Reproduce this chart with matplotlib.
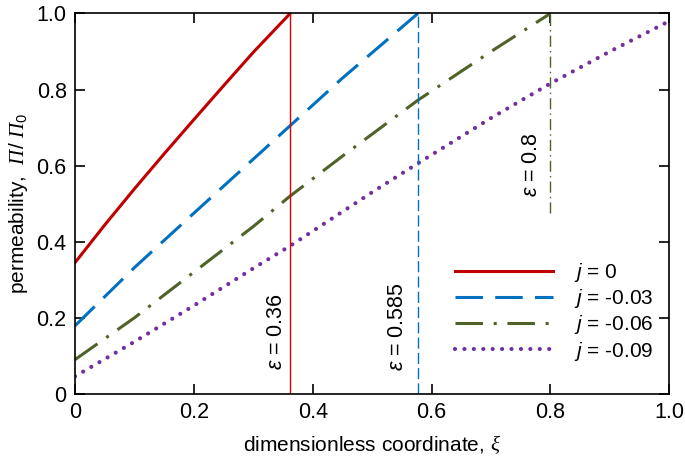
import matplotlib
matplotlib.use("Agg")
import matplotlib.pyplot as plt

plt.rcParams['font.family'] = ['Liberation Sans', 'DejaVu Sans']
plt.rcParams['mathtext.fontset'] = 'custom'
plt.rcParams['mathtext.rm'] = 'Liberation Sans'
plt.rcParams['mathtext.it'] = 'Liberation Sans:italic'
plt.rcParams['mathtext.cal'] = 'Liberation Serif:italic'

# data
xi_red = [0, 0.05, 0.1, 0.15, 0.2, 0.25, 0.3, 0.362]
pi_red = [0.345, 0.444, 0.539, 0.631, 0.721, 0.81, 0.898, 1.0]
xi_blue = [0, 0.1, 0.2, 0.3, 0.362, 0.45, 0.577]
pi_blue = [0.179, 0.332, 0.475, 0.617, 0.705, 0.83, 1.0]
xi_green = [0, 0.1, 0.2, 0.3, 0.362, 0.45, 0.577, 0.7, 0.8]
pi_green = [0.09, 0.2, 0.32, 0.44, 0.52, 0.625, 0.772, 0.9, 1.0]
xi_purple = [0, 0.1, 0.2, 0.3, 0.362, 0.5, 0.577, 0.7, 0.8, 0.9, 1.0]
pi_purple = [0.046, 0.137, 0.232, 0.33, 0.389, 0.53, 0.606, 0.725, 0.816, 0.90, 0.98]
labels = [r'$j$ = 0', r'$j$ = -0.03', r'$j$ = -0.06', r'$j$ = -0.09']
eps_vals = [0.362, 0.577, 0.8]
eps_labels = ['0.36', '0.585', '0.8']
eps_bottoms = [0.0, 0.0, 0.475]

c_red, c_blue, c_green, c_purple = '#C00000', '#0070C0', '#4F6228', '#7030A0'

fig = plt.figure(figsize=(6.85, 4.65), dpi=100)
ax = fig.add_axes([0.1095, 0.153, 0.8675, 0.818])

lw = 2.2
ax.plot(xi_red, pi_red, color=c_red, lw=lw, label=labels[0])
ax.plot(xi_blue, pi_blue, color=c_blue, lw=lw, linestyle=(0, (9, 4)), label=labels[1])
ax.plot(xi_green, pi_green, color=c_green, lw=lw, linestyle=(0, (9, 3.5, 1, 3.5)), label=labels[2])
ax.plot(xi_purple, pi_purple, color=c_purple, lw=3.0, linestyle=(0, (0.01, 2.25)),
        dash_capstyle='round', label=labels[3])

# epsilon vertical lines
ax.plot([eps_vals[0], eps_vals[0]], [eps_bottoms[0], 1.0], color='#E00000', lw=1.0)
ax.plot([eps_vals[1], eps_vals[1]], [eps_bottoms[1], 1.0], color=c_blue, lw=1.0, linestyle=(0, (8, 3)))
ax.plot([eps_vals[2], eps_vals[2]], [eps_bottoms[2], 1.0], color=c_green, lw=1.0, linestyle=(0, (8, 3, 1, 3)))

ax.text(0.356, 0.163, r'$\varepsilon$ = ' + eps_labels[0], rotation=90, ha='right', va='center', fontsize=15.5)
ax.text(0.561, 0.177, r'$\varepsilon$ = ' + eps_labels[1], rotation=90, ha='right', va='center', fontsize=15.5)
ax.text(0.786, 0.603, r'$\varepsilon$ = ' + eps_labels[2], rotation=90, ha='right', va='center', fontsize=15.5)

ax.set_xlim(0, 1.0)
ax.set_ylim(0, 1.0)
ticks = [0, 0.2, 0.4, 0.6, 0.8, 1.0]
ticklabels = ['0', '0.2', '0.4', '0.6', '0.8', '1.0']
ax.set_xticks(ticks)
ax.set_xticklabels(ticklabels)
ax.set_yticks(ticks)
ax.set_yticklabels(ticklabels)
ax.tick_params(direction='in', top=True, right=True, length=7, width=1.2, labelsize=15.5, pad=6)
for s in ax.spines.values():
    s.set_linewidth(1.2)

ax.set_xlabel(r'dimensionless coordinate, $\mathcal{ξ}$', fontsize=15, labelpad=7)
ax.set_ylabel(r'permeability,  $\mathcal{Π}$/ $\mathcal{Π}_{0}$', fontsize=15, labelpad=5)

leg = ax.legend(loc='lower right', bbox_to_anchor=(1.005, 0.033), frameon=False, fontsize=15,
                handlelength=4.7, handletextpad=1.0, labelspacing=0.15)

fig.savefig('out.png', dpi=100)
